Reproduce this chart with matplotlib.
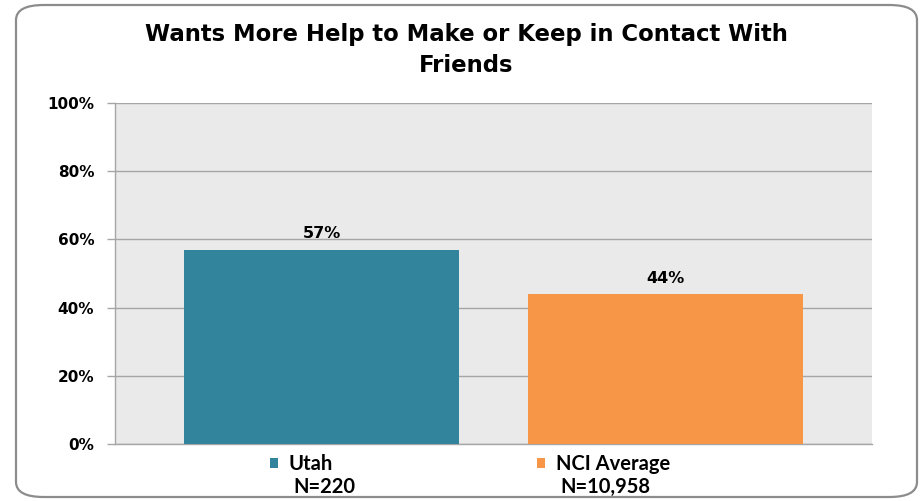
import matplotlib
matplotlib.use("Agg")
import matplotlib.pyplot as plt
from matplotlib.patches import FancyBboxPatch, Patch

plt.rcParams["font.family"] = ["DejaVu Sans"]

categories = ["Utah", "NCI Average"]
values = [57, 44]
n_labels = ["N=220", "N=10,958"]
colors = ["#31849B", "#F79646"]
yticks = [0, 20, 40, 60, 80, 100]
title = "Wants More Help to Make or Keep in Contact With\nFriends"

fig = plt.figure(figsize=(9.24, 5.01), dpi=100)
fig.patch.set_facecolor("white")

border = FancyBboxPatch((16/924, 4/501), (917-16)/924, (496-4)/501,
                        boxstyle="round,pad=0,rounding_size=0.03",
                        transform=fig.transFigure, facecolor="none",
                        edgecolor="#8c8c8c", linewidth=1.6, zorder=0)
fig.patches.append(border)

ax = fig.add_axes([115/924, 1-444/501, (872-115)/924, (444-103)/501])
ax.set_facecolor("#EAEAEA")
x = list(range(len(categories)))
bars = ax.bar(x, values, width=0.8, color=colors, zorder=3)
ax.set_xlim(-0.6, 1.6)
ax.set_ylim(0, 100)
ax.set_yticks(yticks)
ax.set_yticklabels([f"{v}%" for v in yticks], fontsize=11, fontweight="bold")
ax.set_xticks([])
ax.yaxis.grid(True, color="#A6A6A6", linewidth=1.0, zorder=0)
ax.set_axisbelow(True)
for s in ["top", "right"]:
    ax.spines[s].set_visible(False)
for s in ["left", "bottom"]:
    ax.spines[s].set_color("#A6A6A6")
    ax.spines[s].set_linewidth(1.0)
ax.tick_params(axis="y", length=6, color="#A6A6A6", width=1.0, pad=9)

for xi, v in zip(x, values):
    ax.annotate(f"{v}%", (xi, v), xytext=(0, 6), textcoords="offset points",
                ha="center", va="bottom", fontsize=11.5, fontweight="bold")

fig.text(466/924, 1-50/501, title, ha="center", va="center", fontsize=16.4,
         fontweight="bold", linespacing=1.5)

legend_x = [270, 537]
n_x = [293, 560]
for cat, col, lx, nl, nx in zip(categories, colors, legend_x, n_labels, n_x):
    leg = fig.legend([Patch(facecolor=col, edgecolor="none")], [cat],
                     loc="center left", bbox_to_anchor=(lx/924, 1-464/501),
                     frameon=False,
                     prop={"family": "Lato", "weight": "bold", "size": 14.5},
                     handlelength=0.42, handleheight=0.42, handletextpad=0.5,
                     borderaxespad=0, borderpad=0)
    fig.text(nx/924, 1-487/501, nl, ha="left", va="center",
             fontsize=14.5, fontweight="bold", family="Lato")

fig.savefig("out.png", dpi=100)
